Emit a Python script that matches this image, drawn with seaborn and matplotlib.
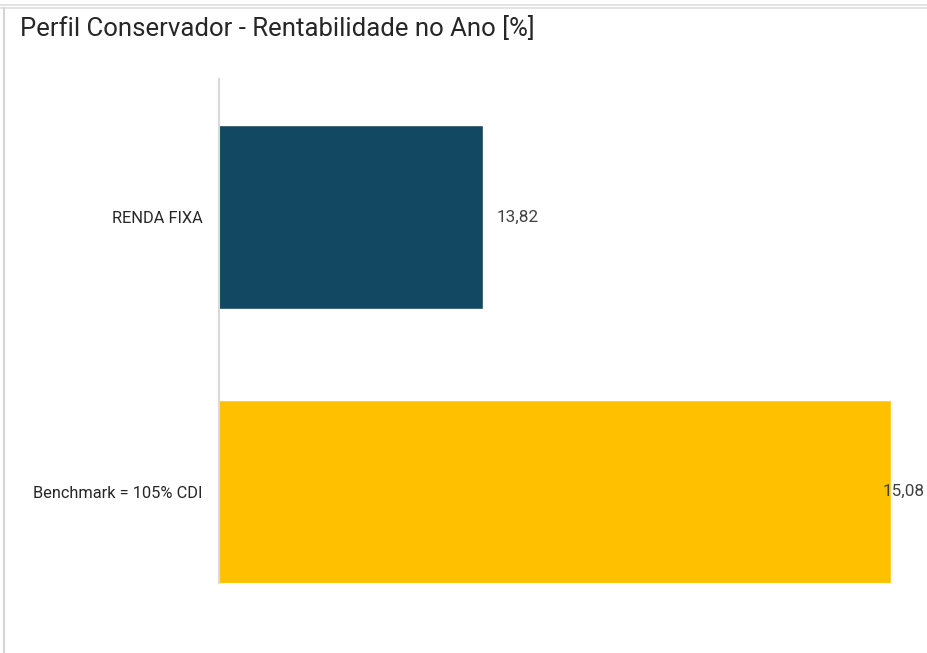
import matplotlib
matplotlib.use("Agg")
import matplotlib.pyplot as plt
import seaborn as sns
import pandas as pd
from matplotlib.lines import Line2D

categories = ["RENDA FIXA", "Benchmark = 105% CDI"]
values = [13.82, 15.08]
colors = ["#124861", "#FFC000"]
title = "Perfil Conservador - Rentabilidade no Ano [%]"

sns.set_theme(style="white")
plt.rcParams['font.family'] = ['Roboto', 'DejaVu Sans']

W, H = 927, 653
fig = plt.figure(figsize=(W / 100, H / 100), dpi=100)
ax = fig.add_axes([219 / W, 70 / H, (W - 219) / W, 504 / H])

df = pd.DataFrame({"cat": categories, "val": values})
sns.barplot(data=df, y="cat", x="val", hue="cat", palette=colors, orient="h",
            width=0.67, legend=False, ax=ax, saturation=1)

ax.set_xlim(13.005, 15.191)
ax.set_ylim(1.333, -0.503)
ax.set_xlabel("")
ax.set_ylabel("")
ax.set_xticks([])
for s in ["top", "right", "bottom"]:
    ax.spines[s].set_visible(False)
ax.spines["left"].set_color("#d9d9d9")
ax.spines["left"].set_linewidth(1.5)
ax.tick_params(axis="y", length=0, pad=12, labelsize=11.8, labelcolor="#262626")

px = 72 / 100
offsets = [14, -8]
for i, (v, off) in enumerate(zip(values, offsets)):
    ax.annotate(f"{v:.2f}".replace(".", ","), xy=(v, i), xytext=(off * px, 0),
                textcoords="offset points", ha="left", va="center",
                fontsize=12.3, color="#404040", annotation_clip=False)

fig.text(20 / W, 1 - 29 / H, title, fontsize=18.5, color="#262626",
         ha="left", va="center")

# chart border remnants
fig.add_artist(Line2D([0, 1], [1 - 5 / H, 1 - 5 / H], color="#dedede", lw=1.2))
fig.add_artist(Line2D([0, 1], [1 - 8 / H, 1 - 8 / H], color="#dedede", lw=1.2))
fig.add_artist(Line2D([4 / W, 4 / W], [0, 1 - 8 / H], color="#d4d4d4", lw=1.5))

fig.savefig("out.png", dpi=100)
